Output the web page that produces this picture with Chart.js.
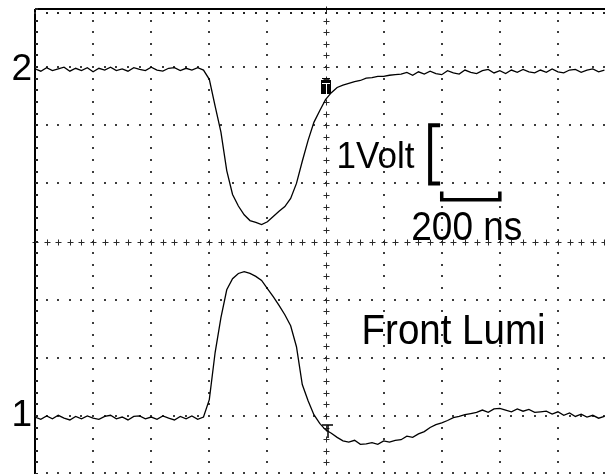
<!DOCTYPE html>
<html>
<head>
  <title>Front Lumi</title>
  <script src="https://cdn.jsdelivr.net/npm/chart.js"></script>
  <style>
    body { margin: 0; background: #fff; }
    #wrap { position: relative; width: 605px; height: 474px; }
  </style>
</head>
<body>
  <div id="wrap"><canvas id="scope-chart"></canvas></div>

  <script>
    // sample times in ns (200 ns per division)
    var sampleTimes = [
      0, 20, 40, 60, 80, 100, 120, 140, 160, 180, 200, 220, 240, 260, 280, 300, 320, 340, 360, 380,
      400, 420, 440, 460, 480, 500, 520, 540, 560, 580, 600, 620, 640, 660, 680, 700, 720, 740, 760, 780,
      800, 820, 840, 860, 880, 900, 920, 940, 960, 980, 1000, 1020, 1040, 1060, 1080, 1100, 1120, 1140, 1160, 1180,
      1200, 1220, 1240, 1260, 1280, 1300, 1320, 1340, 1360, 1380, 1400, 1420, 1440, 1460, 1480, 1500, 1520, 1540, 1560, 1580,
      1600, 1620, 1640, 1660, 1680, 1700, 1720, 1740, 1760, 1780, 1800, 1820, 1840, 1860, 1880, 1900, 1920, 1940, 1960
    ];

    // channel 2 trace (volts, 1 V per division, 0 = screen centre)
    var ch2Volts = [
      2.97, 2.93, 2.99, 2.94, 2.97, 3.00, 2.93, 2.98, 2.94, 2.99, 2.92, 2.98, 2.95, 3.00, 2.94, 2.97, 2.93, 2.99, 2.96, 2.94,
      3.00, 2.95, 2.93, 2.98, 2.99, 2.94, 2.98, 2.95, 2.99, 2.95, 2.79, 2.33, 1.88, 1.22, 0.81, 0.61, 0.46, 0.36, 0.33, 0.29,
      0.34, 0.43, 0.52, 0.60, 0.74, 1.00, 1.38, 1.74, 2.05, 2.25, 2.44, 2.56, 2.65, 2.69, 2.72, 2.75, 2.77, 2.81, 2.82, 2.84,
      2.84, 2.86, 2.87, 2.88, 2.91, 2.86, 2.92, 2.88, 2.93, 2.89, 2.87, 2.94, 2.90, 2.88, 2.95, 2.91, 2.89, 2.94, 2.96, 2.90,
      2.94, 2.89, 2.95, 2.91, 2.96, 2.92, 2.90, 2.95, 2.91, 2.97, 2.92, 2.90, 2.95, 2.96, 2.91, 2.95, 2.97, 2.92, 2.95
    ];

    // channel 1 trace
    var ch1Volts = [
      -3.02, -3.06, -3.00, -3.05, -2.99, -3.04, -3.07, -3.01, -3.05, -3.00, -3.04, -3.06, -3.01, -2.99, -3.05, -3.02, -3.07, -3.01, -3.00, -3.05,
      -3.02, -3.06, -3.00, -3.04, -3.07, -3.01, -3.05, -3.00, -3.06, -3.02, -2.72, -1.91, -1.31, -0.83, -0.64, -0.55, -0.52, -0.55, -0.60, -0.67,
      -0.81, -0.95, -1.10, -1.26, -1.45, -1.81, -2.46, -2.74, -2.98, -3.13, -3.24, -3.30, -3.37, -3.43, -3.45, -3.42, -3.49, -3.48, -3.46, -3.49,
      -3.43, -3.45, -3.42, -3.41, -3.35, -3.37, -3.31, -3.27, -3.20, -3.15, -3.12, -3.08, -3.03, -3.01, -2.98, -2.96, -2.94, -2.90, -2.94, -2.88,
      -2.87, -2.90, -2.93, -2.88, -2.92, -2.89, -2.94, -2.93, -2.92, -2.97, -2.93, -2.99, -2.95, -3.01, -2.97, -3.02, -2.99, -3.04, -3.01
    ];

    // channel markers on the left edge
    var channelNames = ["2", "1"];
    var channelLevels = [2.96, -3.0];

    var gridTimes = [0, 200, 400, 600, 800, 1000, 1200, 1400, 1600, 1800];
    var gridVolts = [-4, -3, -2, -1, 0, 1, 2, 3, 4];

    var FONT = "'Liberation Sans', Arial, sans-serif";

    function stretchedText(ctx, str, x, y, size) {
      ctx.save();
      ctx.font = size + "px " + FONT;
      ctx.textBaseline = "alphabetic";
      ctx.textAlign = "left";
      ctx.translate(x, y);
      ctx.scale(1, 1.08);
      ctx.fillText(str, 0, 0);
      ctx.restore();
    }

    var scopePlugin = {
      id: "scope",
      beforeDatasetsDraw: function (chart) {
        var ctx = chart.ctx, a = chart.chartArea;
        var xs = chart.scales.x, ys = chart.scales.y;
        ctx.save();
        ctx.fillStyle = "#3c3c3c";

        // dotted graticule, one dot every 1/5 division
        gridTimes.forEach(function (t) {
          if (t === 0 || t === 1000) return;
          var px = Math.round(xs.getPixelForValue(t));
          for (var k = 0; k <= 40; k++) {
            var py = Math.round(ys.getPixelForValue(-4 + k * 0.2));
            ctx.fillRect(px - 1, py - 1, 2, 2);
          }
        });
        gridVolts.forEach(function (v) {
          if (v === 0 || v === 4) return;
          var py = Math.round(ys.getPixelForValue(v));
          if (v === -4) py -= 1;
          for (var k = 0; k <= 50; k++) {
            var px = Math.round(xs.getPixelForValue(k * 40));
            ctx.fillRect(px - 1, py - 1, 2, 2);
          }
        });

        // centre axes with small crosses
        ctx.strokeStyle = "#2a2a2a";
        ctx.lineWidth = 1;
        var cx = Math.round(xs.getPixelForValue(1000)) + 0.5;
        var cy = Math.round(ys.getPixelForValue(0)) + 0.5;
        ctx.beginPath();
        for (var k = 0; k <= 40; k++) {
          var py = Math.round(ys.getPixelForValue(-4 + k * 0.2)) + 0.5;
          ctx.moveTo(cx - 3, py); ctx.lineTo(cx + 3, py);
          ctx.moveTo(cx, py - 3); ctx.lineTo(cx, py + 3);
        }
        for (var j = 0; j <= 50; j++) {
          var px = Math.round(xs.getPixelForValue(j * 40)) + 0.5;
          ctx.moveTo(px - 3, cy); ctx.lineTo(px + 3, cy);
          ctx.moveTo(px, cy - 3); ctx.lineTo(px, cy + 3);
        }
        ctx.stroke();

        // frame: top and left edges with inward minor ticks
        ctx.strokeStyle = "#000";
        ctx.lineWidth = 2;
        ctx.beginPath();
        ctx.moveTo(a.left, a.top); ctx.lineTo(a.right, a.top);
        ctx.moveTo(a.left, a.top); ctx.lineTo(a.left, a.bottom);
        ctx.stroke();
        ctx.fillStyle = "#222";
        for (var m = 0; m <= 40; m++) {
          var ty = Math.round(ys.getPixelForValue(-4 + m * 0.2));
          ctx.fillRect(a.left, ty - 1, 3, 2);
        }
        for (var n = 0; n <= 50; n++) {
          var tx = Math.round(xs.getPixelForValue(n * 40));
          ctx.fillRect(tx - 1, a.top + 3, 2, 2);
        }
        ctx.restore();
      },
      afterDatasetsDraw: function (chart) {
        var ctx = chart.ctx;
        var xs = chart.scales.x, ys = chart.scales.y;
        ctx.save();
        ctx.fillStyle = "#000";
        ctx.strokeStyle = "#000";

        // cursor marker on channel 2
        var mx = Math.round(xs.getPixelForValue(1003)), my = Math.round(ys.getPixelForValue(2.65));
        ctx.fillRect(mx - 5, my - 7, 10, 14);
        ctx.fillStyle = "#fff";
        ctx.fillRect(mx - 4, my - 4, 8, 1);
        ctx.fillRect(mx, my - 3, 1, 10);
        ctx.fillStyle = "#000";
        ctx.fillRect(mx - 4, my - 9, 8, 1);

        // cursor marker on channel 1
        var bx = Math.round(xs.getPixelForValue(1010)), by = Math.round(ys.getPixelForValue(-3.15));
        ctx.lineWidth = 1.5;
        ctx.beginPath();
        ctx.moveTo(bx - 6, by); ctx.lineTo(bx + 5, by);
        ctx.moveTo(bx, by); ctx.lineTo(bx, by + 13);
        ctx.stroke();

        // 1 Volt scale bracket
        var vx = xs.getPixelForValue(1360);
        var vTop = ys.getPixelForValue(2), vBot = ys.getPixelForValue(1);
        ctx.lineWidth = 4;
        ctx.beginPath();
        ctx.moveTo(vx + 10, vTop); ctx.lineTo(vx, vTop); ctx.lineTo(vx, vBot); ctx.lineTo(vx + 10, vBot);
        ctx.stroke();

        // 200 ns scale bracket
        var hL = xs.getPixelForValue(1400), hR = xs.getPixelForValue(1600);
        var hy = ys.getPixelForValue(0.72), hTick = ys.getPixelForValue(0.86);
        ctx.lineWidth = 3.5;
        ctx.beginPath();
        ctx.moveTo(hL, hTick); ctx.lineTo(hL, hy); ctx.lineTo(hR, hy); ctx.lineTo(hR, hTick);
        ctx.stroke();

        stretchedText(ctx, "1Volt", xs.getPixelForValue(1038), ys.getPixelForValue(1.27), 35);
        stretchedText(ctx, "200 ns", xs.getPixelForValue(1295), ys.getPixelForValue(0.03), 37);
        stretchedText(ctx, "Front Lumi", xs.getPixelForValue(1124), ys.getPixelForValue(-1.77), 38.5);
        ctx.restore();
      }
    };

    function traceData(values) {
      return sampleTimes.map(function (t, i) { return { x: t, y: values[i] }; });
    }

    var scopeChart = new Chart(document.getElementById("scope-chart").getContext("2d"), {
      type: "line",
      data: {
        datasets: [{
          label: "2",
          data: traceData(ch2Volts),
          borderColor: "#000",
          borderWidth: 1.3,
          pointRadius: 0,
          tension: 0
        }, {
          label: "1",
          data: traceData(ch1Volts),
          borderColor: "#000",
          borderWidth: 1.3,
          pointRadius: 0,
          tension: 0
        }]
      },
      options: {
        responsive: true,
        maintainAspectRatio: false,
        animation: false,
        layout: { padding: { left: 0, top: 9, right: 0, bottom: 0 } },
        plugins: {
          legend: { display: false },
          tooltip: { enabled: false }
        },
        scales: {
          x: {
            type: "linear",
            min: 0,
            max: 1962,
            display: false
          },
          y: {
            min: -4,
            max: 4,
            grid: { display: false, drawTicks: false, tickLength: 0 },
            border: { display: false },
            afterBuildTicks: function (scale) {
              scale.ticks = channelLevels.map(function (v) { return { value: v }; });
            },
            afterFit: function (scale) {
              scale.width = 35;
              scale.paddingTop = 0;
              scale.paddingBottom = 0;
            },
            ticks: {
              padding: 3,
              color: "#000",
              font: { family: FONT, size: 37 },
              callback: function (value, index) { return channelNames[index]; }
            }
          }
        }
      },
      plugins: [scopePlugin]
    });
  </script>
</body>
</html>
